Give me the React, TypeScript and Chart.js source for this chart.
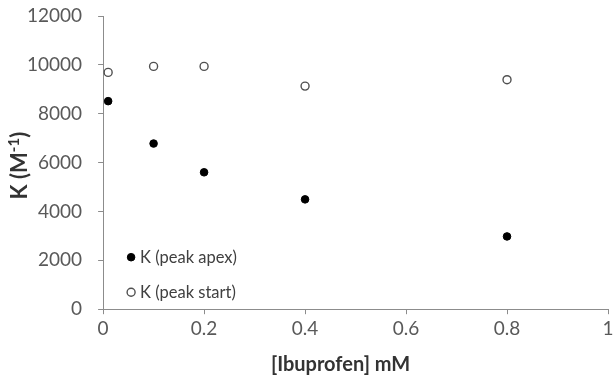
import React, { useEffect, useRef } from "react";
import { Chart, registerables } from "chart.js";

Chart.register(...registerables);

const concentrations = [0.01, 0.1, 0.2, 0.4, 0.8];
const kPeakApex = [8515, 6780, 5603, 4495, 2978];
const kPeakStart = [9692, 9938, 9938, 9130, 9393];
const seriesLabels = ["K (peak apex)", "K (peak start)"];
const xTitle = "[Ibuprofen] mM";
const yTitleParts = ["K (M", "-1", ")"];

const FONT = "Lato, 'Open Sans', sans-serif";
const TICK_COLOR = "#595959";
const TITLE_COLOR = "#333333";
const AXIS_COLOR = "#8c8c8c";

const zeroPadding = (scale: any) => {
  scale.paddingTop = 0;
  scale.paddingBottom = 0;
  scale.paddingLeft = 0;
  scale.paddingRight = 0;
};

const legendPlugin = {
  id: "insideLegend",
  afterDraw(chart: any) {
    const { ctx, chartArea } = chart;
    const rows = [chartArea.bottom - 52, chartArea.bottom - 17];
    ctx.save();
    chart.data.datasets.forEach((ds: any, i: number) => {
      const cx = chartArea.left + 28;
      const cy = rows[i];
      ctx.beginPath();
      ctx.arc(cx, cy, ds.pointRadius, 0, Math.PI * 2);
      ctx.fillStyle = ds.pointBackgroundColor;
      ctx.fill();
      ctx.lineWidth = ds.pointBorderWidth;
      ctx.strokeStyle = ds.pointBorderColor;
      ctx.stroke();
      ctx.font = `16.5px ${FONT}`;
      ctx.fillStyle = "#404040";
      ctx.textAlign = "left";
      ctx.textBaseline = "middle";
      ctx.fillText(ds.label, cx + 9, cy);
    });
    ctx.restore();
  },
};

const titlesPlugin = {
  id: "axisTitles",
  afterDraw(chart: any) {
    const { ctx, chartArea } = chart;
    ctx.save();
    // x title
    ctx.font = `bold 20px ${FONT}`;
    ctx.fillStyle = TITLE_COLOR;
    ctx.textAlign = "center";
    ctx.textBaseline = "middle";
    ctx.fillText(xTitle, (chartArea.left + chartArea.right) / 2 - 15, chartArea.bottom + 55);
    ctx.restore();

    // y title with superscript
    ctx.save();
    const mainFont = `bold 22px ${FONT}`;
    const supFont = `bold 15px ${FONT}`;
    ctx.font = mainFont;
    const w0 = ctx.measureText(yTitleParts[0]).width;
    const w2 = ctx.measureText(yTitleParts[2]).width;
    ctx.font = supFont;
    const w1 = ctx.measureText(yTitleParts[1]).width;
    const total = w0 + w1 + w2;
    const cy = (chartArea.top + chartArea.bottom) / 2 + 3;
    ctx.translate(27, cy);
    ctx.rotate(-Math.PI / 2);
    ctx.fillStyle = TITLE_COLOR;
    ctx.textBaseline = "alphabetic";
    ctx.textAlign = "left";
    let x = -total / 2;
    ctx.font = mainFont;
    ctx.fillText(yTitleParts[0], x, 0);
    x += w0;
    ctx.font = supFont;
    ctx.fillText(yTitleParts[1], x, -8);
    x += w1;
    ctx.font = mainFont;
    ctx.fillText(yTitleParts[2], x, 0);
    ctx.restore();
  },
};

export default function App() {
  const canvasRef = useRef<HTMLCanvasElement | null>(null);

  useEffect(() => {
    if (!canvasRef.current) return;
    const chart = new Chart(canvasRef.current, {
      type: "scatter",
      data: {
        datasets: [
          {
            label: seriesLabels[0],
            data: concentrations.map((x, i) => ({ x, y: kPeakApex[i] })),
            pointRadius: 3.8,
            pointBackgroundColor: "#000000",
            pointBorderColor: "#000000",
            pointBorderWidth: 1,
            showLine: false,
          } as any,
          {
            label: seriesLabels[1],
            data: concentrations.map((x, i) => ({ x, y: kPeakStart[i] })),
            pointRadius: 4,
            pointBackgroundColor: "#ffffff",
            pointBorderColor: "#505050",
            pointBorderWidth: 1.4,
            showLine: false,
          } as any,
        ],
      },
      options: {
        responsive: false,
        animation: false,
        layout: { padding: { left: 11, right: 7, top: 16, bottom: 33 } },
        plugins: {
          legend: { display: false },
          tooltip: { enabled: false },
        },
        scales: {
          x: {
            type: "linear",
            min: 0,
            max: 1,
            afterFit: zeroPadding,
            ticks: {
              stepSize: 0.2,
              color: TICK_COLOR,
              font: { family: FONT, size: 19 },
              padding: 3,
              callback: (v: any) => String(Math.round(Number(v) * 10) / 10),
            },
            grid: {
              drawOnChartArea: false,
              drawTicks: true,
              tickLength: 5,
              color: AXIS_COLOR,
            },
            border: { color: AXIS_COLOR, width: 1 },
          },
          y: {
            type: "linear",
            min: 0,
            max: 12000,
            afterFit: zeroPadding,
            ticks: {
              stepSize: 2000,
              color: TICK_COLOR,
              font: { family: FONT, size: 19 },
              padding: 16,
              callback: (v: any) => String(v),
            },
            grid: {
              drawOnChartArea: false,
              drawTicks: true,
              tickLength: 5,
              color: AXIS_COLOR,
            },
            border: { color: AXIS_COLOR, width: 1 },
          },
        },
      },
      plugins: [legendPlugin, titlesPlugin],
    });
    return () => chart.destroy();
  }, []);

  return (
    <div style={{ position: "absolute", left: 0, top: 0, width: 615, height: 376, background: "#fff" }}>
      <canvas ref={canvasRef} width={615} height={376} style={{ display: "block" }} />
    </div>
  );
}
